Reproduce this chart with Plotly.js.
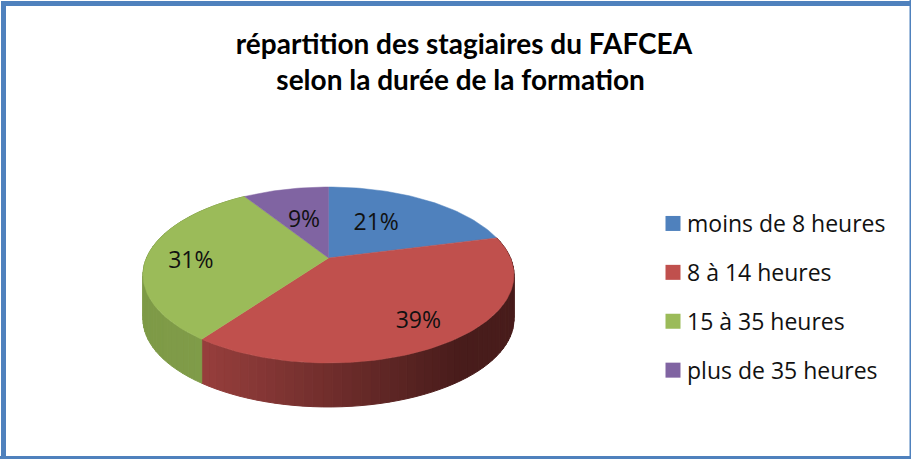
<!DOCTYPE html>
<html>
<head>
<meta charset="utf-8">
<script src="https://cdn.plot.ly/plotly-3.0.1.min.js"></script>
<style>html,body{margin:0;padding:0;background:#fff}#chart{width:911px;height:459px}</style>
</head>
<body>
<div id="chart"></div>
<script>
const categories = ['moins de 8 heures', '8 à 14 heures', '15 à 35 heures', 'plus de 35 heures'];
const shares = [21, 39, 31, 9];
const sliceColors = ['#4f81bd', '#c0504d', '#9bbb59', '#8064a2'];
const titleText = 'répartition des stagiaires du FAFCEA<br>selon la durée de la formation&nbsp;';

// perspective projection of the pie disc onto the page
const CX = 328.5, CY = 258, DX = 182, AY = 84.7, PERSP = 0.193, DEPTH = 44;
function project(deg, r) {
  const t = deg * Math.PI / 180, sx = Math.sin(t) * r, cy = Math.cos(t) * r;
  const den = 1 + PERSP * cy;
  return [CX + DX * sx / den, CY - AY * cy / den];
}
// wall shade of each slice: [left colour, right colour] over the visible front
const wallShades = [null, [[150, 62, 60], [72, 28, 27]], [[126, 154, 71], [136, 165, 79]], null];
const labelR = [0.52, 0.77, 0.76, 0.53], nudgeX = [-6, 0, 0, 0], nudgeY = [-2, 3, 6, 2];

const total = shares.reduce((a, b) => a + b, 0);
const traces = [];
let start = 0;
const spans = shares.map(v => { const s = [start, start + v / total * 360]; start = s[1]; return s; });

// walls
spans.forEach((s, i) => {
  if (!wallShades[i]) return;
  const n = Math.max(2, Math.ceil((s[1] - s[0]) / 2.5));
  const px = [];
  for (let k = 0; k <= n; k++) px.push(project(s[0] + (s[1] - s[0]) * k / n, 1));
  const xmin = 143, xmax = 514;
  for (let k = 0; k < n; k++) {
    const a = px[k], b = px[k + 1];
    let f = ((a[0] + b[0]) / 2 - xmin) / (xmax - xmin);
    if (i === 1) f = Math.min(1, Math.max(0, (((a[0] + b[0]) / 2) - 205) / 255));
    const c0 = wallShades[i][0], c1 = wallShades[i][1];
    const col = 'rgb(' + c0.map((v, j) => Math.round(v + (c1[j] - v) * Math.min(1, f))).join(',') + ')';
    traces.push({
      type: 'scatter', mode: 'lines', x: [a[0], b[0], b[0], a[0], a[0]],
      y: [a[1], b[1], b[1] + DEPTH, a[1] + DEPTH, a[1]],
      fill: 'toself', fillcolor: col, line: { color: col, width: 1 },
      hoverinfo: 'skip', showlegend: false
    });
  }
});
// top faces
spans.forEach((s, i) => {
  const x = [CX], y = [CY];
  const n = Math.ceil((s[1] - s[0]) / 1.5);
  for (let k = 0; k <= n; k++) {
    const p = project(s[0] + (s[1] - s[0]) * k / n, 1);
    x.push(p[0]); y.push(p[1]);
  }
  x.push(CX); y.push(CY);
  traces.push({
    type: 'scatter', mode: 'lines', x, y, fill: 'toself', fillcolor: sliceColors[i],
    line: { color: sliceColors[i], width: 0.5 }, name: categories[i],
    hoverinfo: 'name', showlegend: false
  });
});
// percent labels
const lab = spans.map((s, i) => project((s[0] + s[1]) / 2, labelR[i]));
traces.push({
  type: 'scatter', mode: 'text',
  x: lab.map((p, i) => p[0] + nudgeX[i]), y: lab.map((p, i) => p[1] + nudgeY[i]),
  text: shares.map(v => v + '%'), textposition: 'middle center',
  textfont: { family: 'Open Sans, sans-serif', size: 23, color: '#111' },
  hoverinfo: 'skip', showlegend: false
});
// legend entries
categories.forEach((c, i) => traces.push({
  type: 'scatter', mode: 'markers', x: [null], y: [null], name: c, legendgroup: 'g' + i,
  marker: { symbol: 'square', size: 15, color: sliceColors[i] }
}));

const bar = (x0, y0, x1, y1) => ({ type: 'rect', xref: 'x', yref: 'y', x0, y0, x1, y1, fillcolor: '#4f81bd', line: { width: 0 }, layer: 'above' });
const layout = {
  width: 911, height: 459, margin: { l: 0, r: 0, t: 0, b: 0 },
  paper_bgcolor: '#fff', plot_bgcolor: '#fff', showlegend: true,
  xaxis: { range: [0, 911], visible: false, fixedrange: true },
  yaxis: { range: [459, 0], visible: false, fixedrange: true },
  title: {
    text: titleText, x: 464 / 911, xanchor: 'center', y: 1 - 54 / 459, yanchor: 'middle',
    font: { family: 'Lato, sans-serif', size: 28, color: '#000', weight: 700 }
  },
  legend: {
    x: 647 / 911, y: 1 - 202 / 459, xanchor: 'left', yanchor: 'top', bgcolor: 'rgba(0,0,0,0)',
    tracegroupgap: 16, itemclick: false, itemdoubleclick: false,
    font: { family: 'Open Sans, sans-serif', size: 23, color: '#111' }
  },
  shapes: [bar(1, 1, 911, 6), bar(1, 1, 6, 459), bar(0, 456, 911, 459), bar(909.5, 0, 911, 459)]
};
Plotly.newPlot('chart', traces, layout, { displayModeBar: false }).then(gd => {
  gd.querySelectorAll('.legendsymbols').forEach(g => g.setAttribute('transform', 'translate(6,0)'));
});
</script>
</body>
</html>
